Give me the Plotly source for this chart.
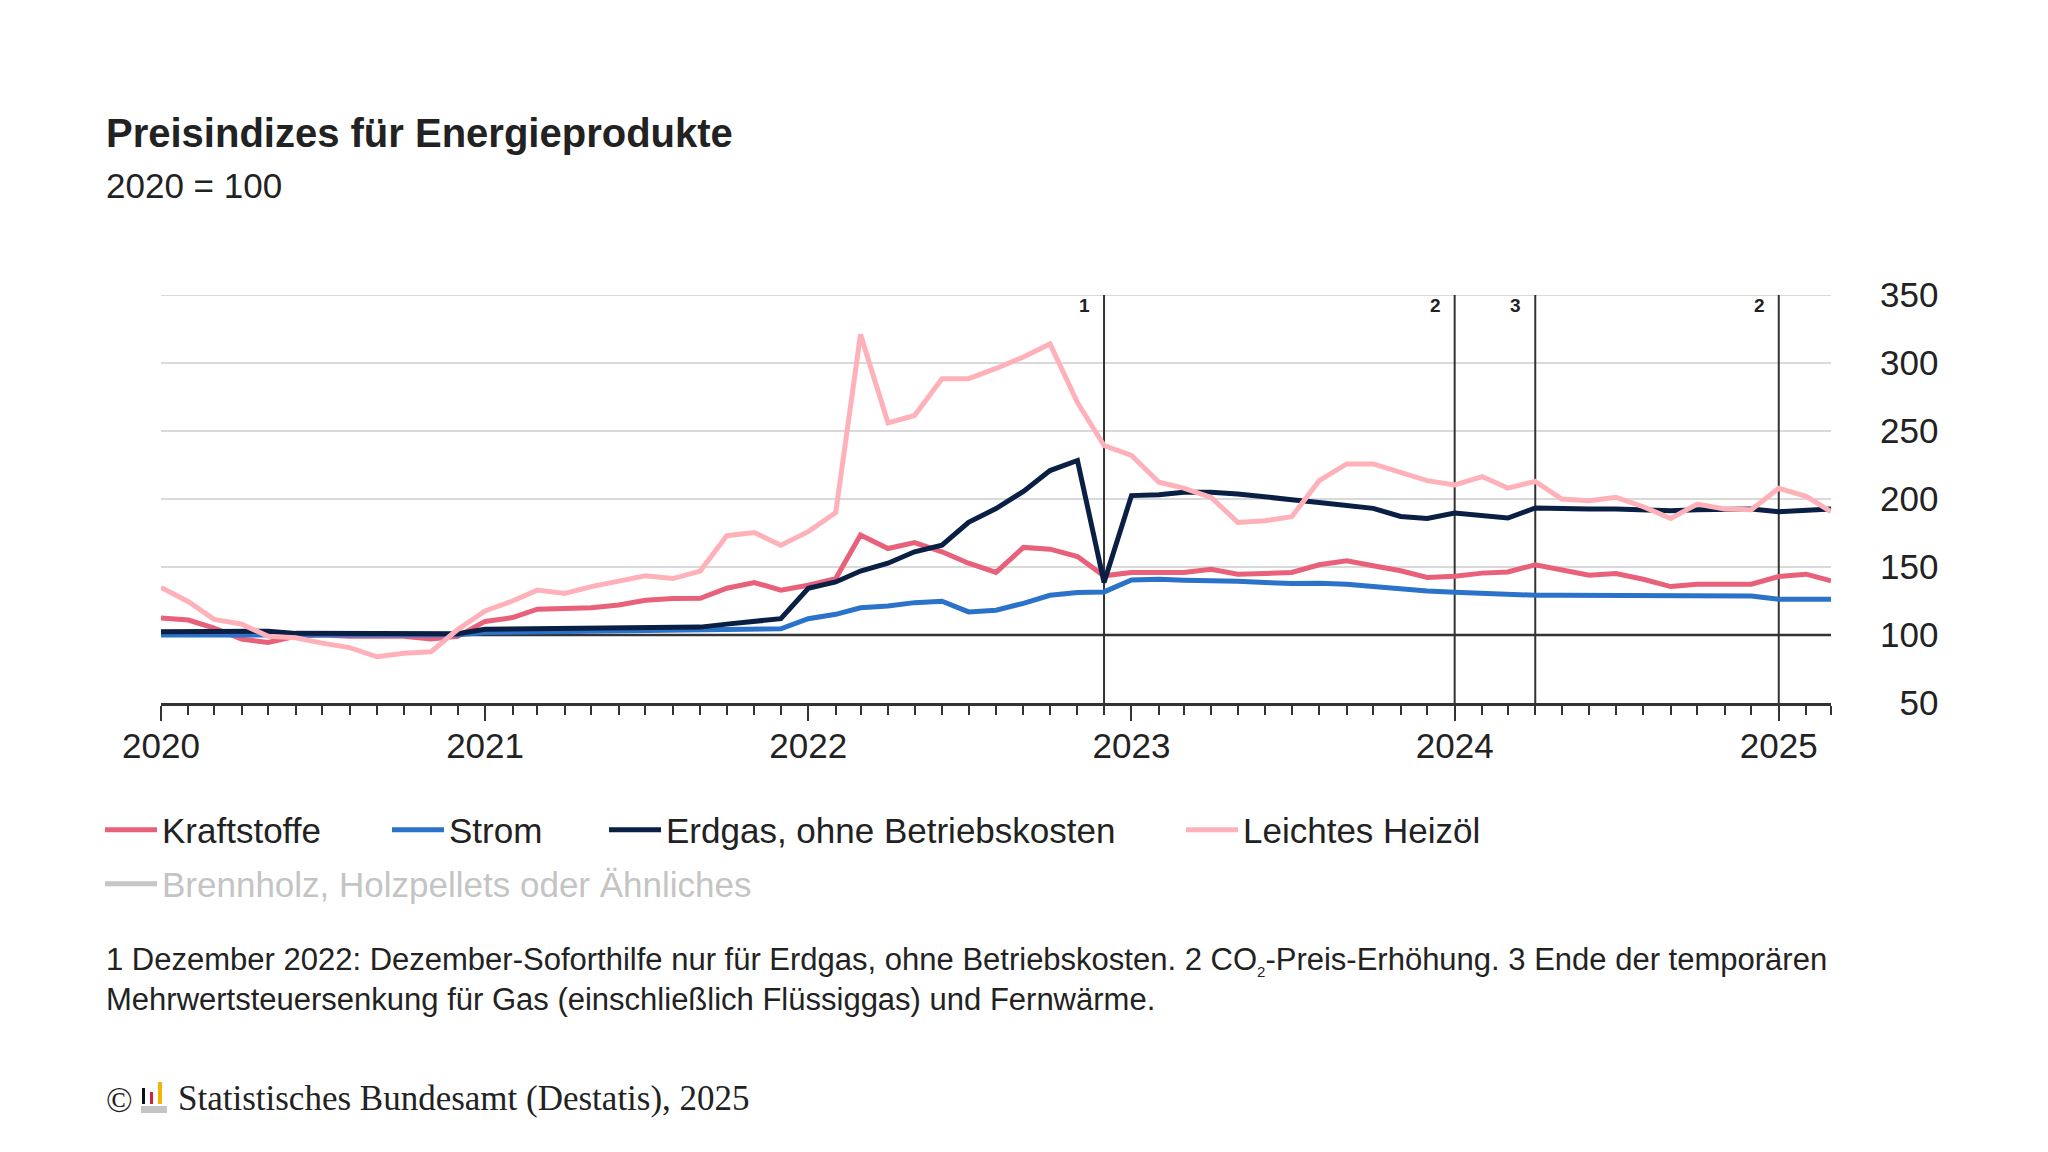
import plotly.graph_objects as go

# ---------------- data ----------------
months = [f"{y}-{m:02d}-01" for y in range(2020, 2026) for m in range(1, 13)][:63]

kraftstoffe = [
    112.5, 111.0, 105.0, 97.0, 94.5, 99.0, 100.0, 99.0, 99.0, 99.0, 97.0, 99.0,
    110.0, 112.8, 119.0, 119.2, 120.0, 122.0, 125.5, 126.8, 127.0, 134.4, 138.6, 133.0,
    136.6, 141.5, 173.5, 163.6, 168.0, 161.2, 152.8, 146.0, 164.4, 163.1, 157.7, 143.5,
    146.0, 146.0, 146.0, 148.4, 144.7, 145.2, 146.0, 151.6, 154.5, 150.9, 147.2, 142.3,
    143.2, 145.5, 146.4, 151.6, 147.9, 144.0, 145.2, 141.0, 135.6, 137.3, 137.3, 137.3,
    143.0, 144.7, 139.8,
]
strom = [
    100.0, 100.0, 100.1, 100.2, 100.2, 100.1, 100.0, 100.0, 100.0, 100.0, 100.0, 100.1,
    101.8, 102.0, 102.2, 102.3, 102.4, 102.5, 102.7, 102.9, 103.2, 103.6, 104.0, 104.5,
    112.0, 115.2, 120.0, 121.4, 123.8, 124.8, 117.0, 118.2, 123.3, 129.2, 131.2, 131.7,
    140.5, 141.0, 140.3, 140.3, 139.6, 138.6, 137.8, 138.0, 137.3, 135.6, 133.7, 132.4,
    131.5, 130.5, 129.5, 129.2, 129.2, 129.2, 129.0, 128.8, 128.6, 128.5, 128.5, 128.6,
    126.3, 126.2, 126.2,
]
erdgas = [
    102.3, 102.3, 102.4, 102.6, 102.8, 101.2, 101.1, 101.0, 100.9, 100.9, 100.9, 100.9,
    104.2, 104.3, 104.4, 104.5, 104.6, 104.8, 105.0, 105.3, 105.8, 108.0, 110.0, 112.0,
    134.4, 139.0, 147.0, 152.8, 161.2, 166.0, 182.8, 193.0, 205.6, 220.9, 228.3, 138.6,
    202.5, 203.2, 205.0, 205.0, 203.7, 202.0, 199.5, 197.5, 195.6, 193.1, 187.2, 185.7,
    189.7, 188.2, 186.0, 193.4, 192.6, 192.6, 192.6, 192.1, 191.4, 192.1, 192.1, 192.6,
    190.7, 191.6, 192.6,
]
heizoel = [
    135.0, 124.5, 111.5, 108.0, 99.0, 98.0, 94.0, 90.7, 84.0, 86.5, 87.7, 104.0,
    117.7, 125.0, 133.0, 130.5, 135.6, 139.6, 143.5, 141.5, 147.0, 173.0, 175.4, 166.0,
    176.0, 190.0, 321.0, 256.0, 261.4, 288.5, 288.5, 296.0, 304.4, 314.0, 271.0, 239.3,
    232.0, 212.3, 208.0, 201.2, 182.8, 184.0, 187.0, 213.5, 225.8, 225.8, 219.7, 213.5,
    210.3, 216.5, 208.0, 213.0, 200.0, 198.8, 201.2, 194.3, 185.7, 196.3, 192.6, 192.1,
    207.9, 202.0, 190.7,
]
brennholz = [None]  # series hidden in the original (legend only)

series_names = ["Kraftstoffe", "Strom", "Erdgas, ohne Betriebskosten",
                "Leichtes Heizöl", "Brennholz, Holzpellets oder Ähnliches"]
series_colors = ["#E8607A", "#2B72C9", "#0A1F44", "#FFB1B9", "#8f8f8f"]

y_ticks = [50, 100, 150, 200, 250, 300, 350]
y_tick_labels = ["\u200750", "100", "150", "200", "250", "300", "350"]
y_grid = [150, 200, 250, 300, 350]
y_base = 100

marker_months = ["2022-12-01", "2024-01-01", "2024-04-01", "2025-01-01"]
marker_labels = ["1", "2", "3", "2"]

title = "Preisindizes für Energieprodukte"
subtitle = "2020 = 100"
footnote = ("1 Dezember 2022: Dezember-Soforthilfe nur für Erdgas, ohne Betriebskosten. "
            "2 CO<sub><span style=\"font-size:15px\">2</span></sub>-Preis-Erhöhung. "
            "3 Ende der temporären<br>"
            "Mehrwertsteuersenkung für Gas (einschließlich Flüssiggas) und Fernwärme.")
source = "Statistisches Bundesamt (Destatis), 2025"

# ---------------- layout helpers ----------------
W, H = 2048, 1152
PL, PR, PT, PB = 161, 1831, 295, 703
FONT = "Liberation Sans, Arial, sans-serif"
SERIF = "Liberation Serif, Times New Roman, serif"
TXT = "#222222"


def px_x(px):
    return (px - PL) / (PR - PL)


def px_y(py):
    return (PB - py) / (PB - PT)


fig = go.Figure()

values = [kraftstoffe, strom, erdgas, heizoel]
legend_ids = ["legend", "legend2", "legend3", "legend4"]
for name, col, vals, lg in zip(series_names[:4], series_colors[:4], values, legend_ids):
    fig.add_trace(go.Scatter(
        x=months, y=vals, name=name, mode="lines",
        line=dict(color=col, width=5), legend=lg, hoverinfo="x+y+name",
    ))

fig.add_trace(go.Scatter(
    x=months[:1], y=brennholz, name=series_names[4], mode="lines",
    line=dict(color=series_colors[4], width=5), legend="legend5",
    visible="legendonly",
))

shapes = []
# horizontal gridlines
for v in y_grid:
    shapes.append(dict(type="line", xref="paper", x0=0, x1=1, yref="y", y0=v, y1=v,
                       line=dict(color="#cccccc", width=1.5), layer="below"))
# base line at 100
shapes.append(dict(type="line", xref="paper", x0=0, x1=1, yref="y", y0=y_base, y1=y_base,
                   line=dict(color="#333333", width=2.5), layer="below"))

annotations = []
for m, lab in zip(marker_months, marker_labels):
    shapes.append(dict(type="line", xref="x", x0=m, x1=m, yref="paper", y0=0, y1=1,
                       line=dict(color="#333333", width=2), layer="below"))
    annotations.append(dict(x=m, y=1, xref="x", yref="paper", text=f"<b>{lab}</b>",
                            showarrow=False, xanchor="right", yanchor="top",
                            xshift=-12, yshift=2,
                            font=dict(family=FONT, size=19, color=TXT)))

# title / subtitle / footnote / source
annotations += [
    dict(x=px_x(104), y=px_y(133), xref="paper", yref="paper", text=f"<b>{title}</b>",
         showarrow=False, xanchor="left", yanchor="middle",
         font=dict(family=FONT, size=40, color=TXT)),
    dict(x=px_x(104), y=px_y(185), xref="paper", yref="paper", text=subtitle,
         showarrow=False, xanchor="left", yanchor="middle",
         font=dict(family=FONT, size=35, color=TXT)),
    dict(x=px_x(104), y=px_y(979), xref="paper", yref="paper", text=footnote,
         showarrow=False, xanchor="left", yanchor="middle", align="left",
         font=dict(family=FONT, size=31, color=TXT)),
    dict(x=px_x(104), y=px_y(1100), xref="paper", yref="paper", text="©",
         showarrow=False, xanchor="left", yanchor="middle",
         font=dict(family=SERIF, size=35, color=TXT)),
    dict(x=px_x(176), y=px_y(1098), xref="paper", yref="paper", text=source,
         showarrow=False, xanchor="left", yanchor="middle",
         font=dict(family=SERIF, size=35, color=TXT)),
]

# small Destatis logo
logo = [
    (142, 145, 1088, 1104, "#111111"),
    (150, 153, 1092, 1104, "#D0243A"),
    (158, 162, 1082, 1104, "#F2B705"),
    (141, 167, 1106, 1113, "#C4C4C4"),
]
for x0, x1, y0, y1, c in logo:
    shapes.append(dict(type="rect", xref="paper", yref="paper",
                       x0=px_x(x0), x1=px_x(x1), y0=px_y(y1), y1=px_y(y0),
                       fillcolor=c, line=dict(width=0)))

legend_common = dict(orientation="h", xanchor="left", yanchor="middle",
                     bgcolor="rgba(0,0,0,0)", itemwidth=52)
row1 = px_y(830)
row2 = px_y(884)
lfont = dict(family=FONT, size=35, color=TXT)

fig.update_layout(
    width=W, height=H,
    margin=dict(l=PL, r=W - PR, t=PT, b=H - PB, pad=0),
    paper_bgcolor="white", plot_bgcolor="white",
    font=dict(family=FONT, size=35, color=TXT),
    showlegend=True,
    legend=dict(x=px_x(100), y=row1, font=lfont, **legend_common),
    legend2=dict(x=px_x(387), y=row1, font=lfont, **legend_common),
    legend3=dict(x=px_x(604), y=row1, font=lfont, **legend_common),
    legend4=dict(x=px_x(1181), y=row1, font=lfont, **legend_common),
    legend5=dict(x=px_x(100), y=row2, font=dict(family=FONT, size=35, color="#8a8a8a"),
                 **legend_common),
    xaxis=dict(
        type="date", range=["2020-01-01", "2025-03-01"],
        dtick="M12", tick0="2020-01-01", tickformat="%Y",
        ticks="outside", ticklen=15, tickwidth=2, tickcolor="#333333",
        minor=dict(dtick="M1", tick0="2020-01-01", ticks="outside", ticklen=9,
                   tickwidth=2, tickcolor="#333333", showgrid=False),
        showgrid=False, zeroline=False,
        showline=True, linecolor="#333333", linewidth=2.5,
        ticklabelstandoff=-5,
        tickfont=dict(family=FONT, size=35, color=TXT),
    ),
    yaxis=dict(
        side="right", range=[50, 350], tickmode="array",
        tickvals=y_ticks, ticktext=y_tick_labels,
        showgrid=False, zeroline=False, showline=False, ticks="",
        ticklabelstandoff=48,
        tickfont=dict(family=FONT, size=35, color=TXT),
    ),
    shapes=shapes,
    annotations=annotations,
    hovermode="x unified",
)

fig.write_html("out.html", config={"displayModeBar": False},
               post_script="document.body.style.margin='0';")
